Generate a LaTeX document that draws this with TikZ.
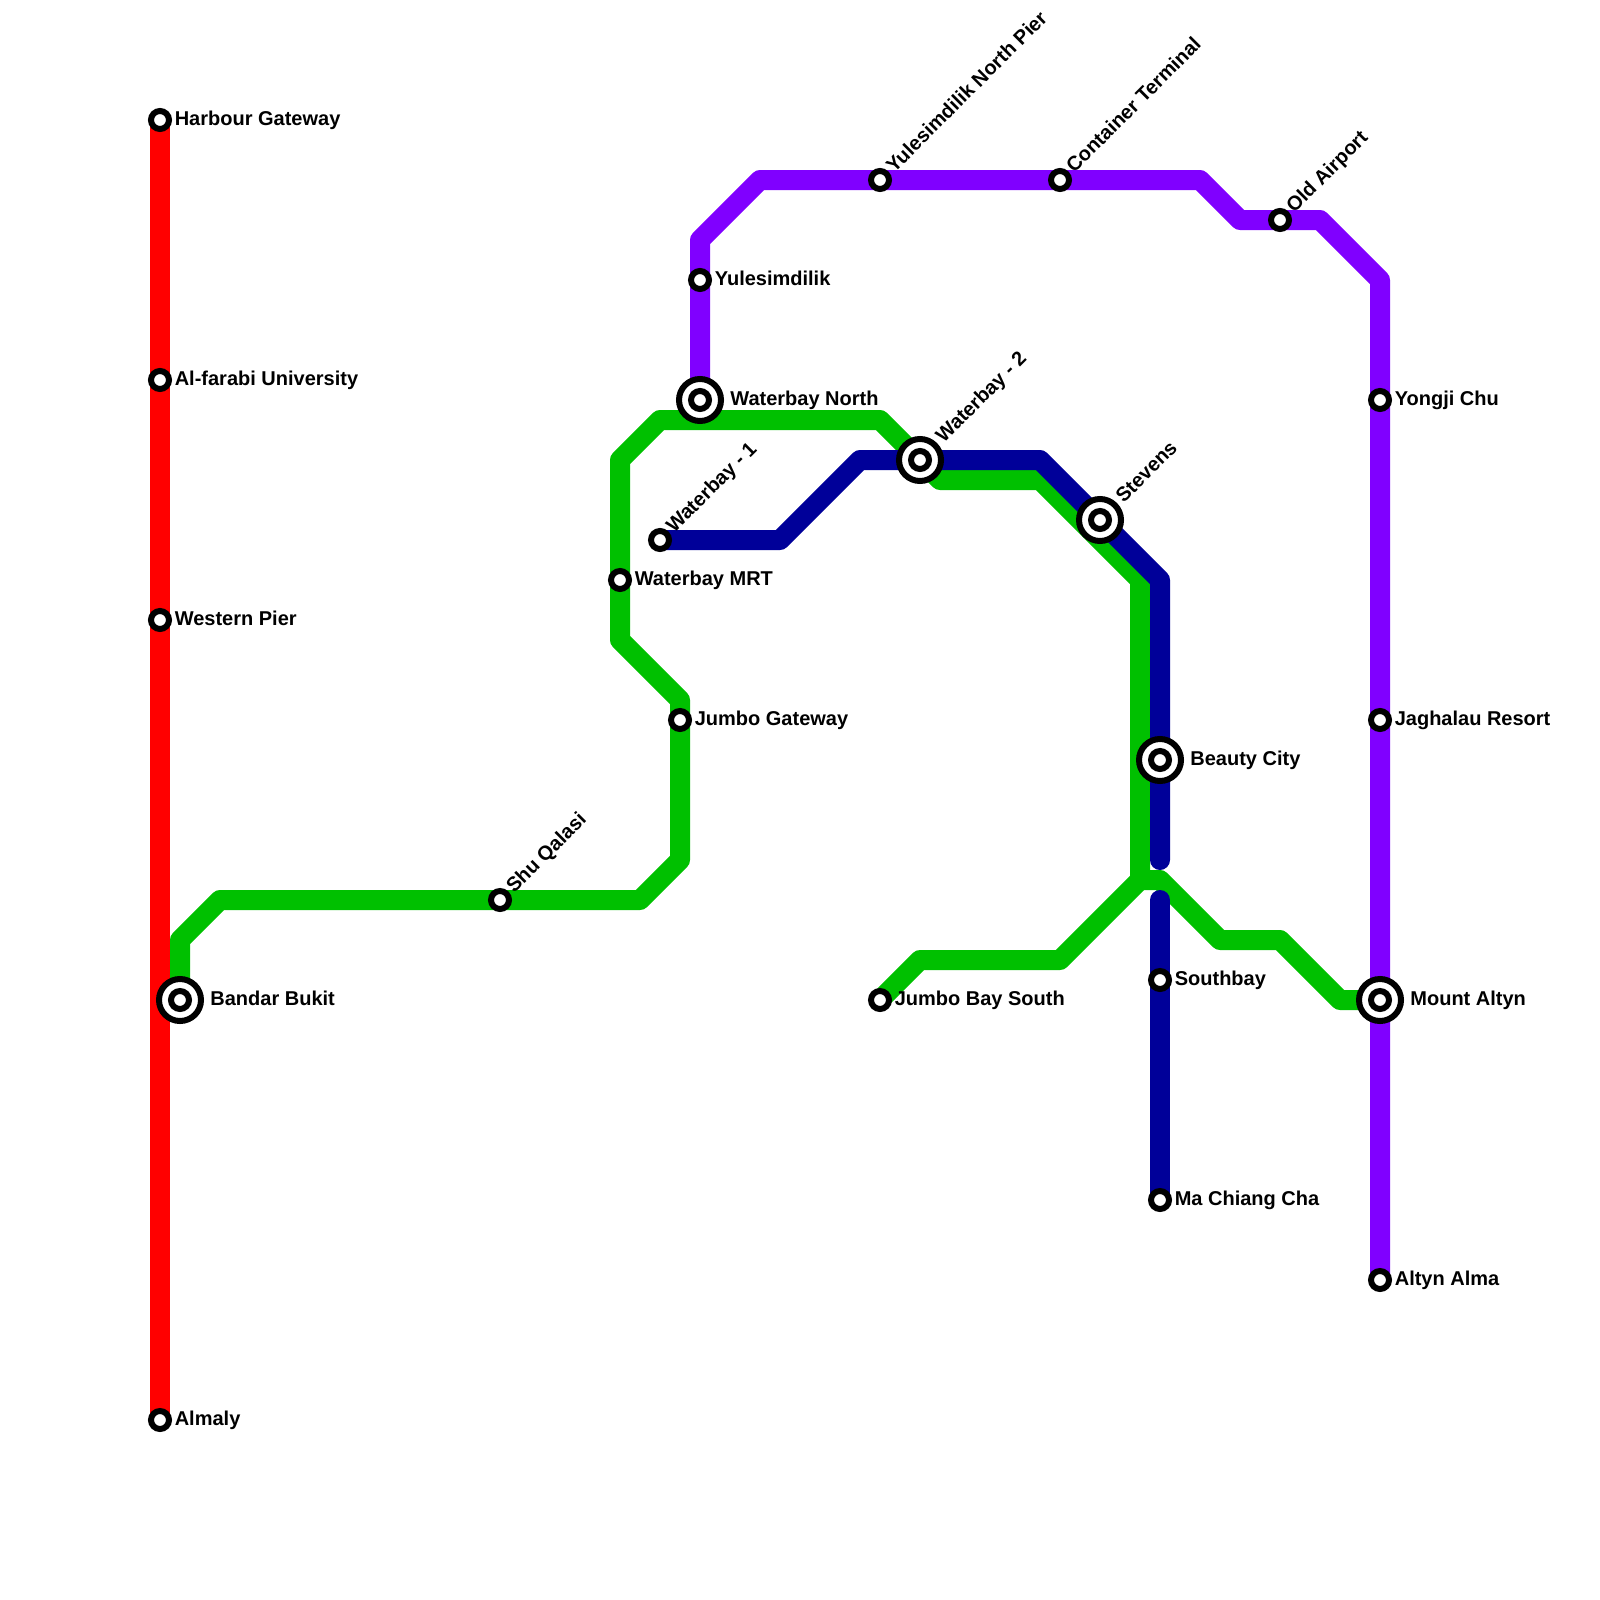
\documentclass[tikz,border=0pt]{standalone}
\usepackage{xcolor}
\usepackage{fontspec}
\setmainfont{Liberation Sans}
\usetikzlibrary{positioning, backgrounds}

\definecolor{linered}{HTML}{FF0000}
\definecolor{linegreen}{HTML}{00C000}
\definecolor{lineblue}{HTML}{000099}
\definecolor{linepurple}{HTML}{8000FF}

\begin{document}
\begin{tikzpicture}[
    x=0.5pt,
    y=-0.5pt,
    station/.style={
        circle,
        draw=black,
        fill=white,
        line width=3pt,
        inner sep=0pt,
        minimum size=9pt
    },
    hub/.style={
        station,
        minimum size=21pt
    },
    stationlabel/.style={
        inner sep=0pt,
        text height=7.3pt,
        text depth=2pt,
        font=\fontsize{10}{12}\selectfont\bfseries
    },
    slantlabel/.style={
        stationlabel,
        rotate=45
    },
    metro/.style={
        line width=10pt,
        line cap=round,
        line join=round
    }
]
\useasboundingbox (0,0) rectangle (1600,1600);

% red line
\node[station] (harbour) at (160,120) {};
\node[station] (alfarabi) at (160,380) {};
\node[station] (western) at (160,620) {};
\node[station] (almaly) at (160,1420) {};

% green line
\node[hub] (bandar) at (180,1000) {};
\node[station] (bandarin) at (bandar) {};
\node[station] (shu) at (500,900) {};
\node[station] (jumbogateway) at (680,720) {};
\node[station] (waterbaymrt) at (620,580) {};
\node[station] (jumbosouth) at (880,1000) {};

% blue line
\node[station] (waterbayone) at (660,540) {};
\node[hub] (waterbaytwo) at (920,460) {};
\node[station] (waterbaytwoin) at (waterbaytwo) {};
\node[hub] (stevens) at (1100,520) {};
\node[station] (stevensin) at (stevens) {};
\node[hub] (beauty) at (1160,760) {};
\node[station] (beautyin) at (beauty) {};
\node[station] (southbay) at (1160,980) {};
\node[station] (machiang) at (1160,1200) {};

% purple line
\node[hub] (waterbaynorth) at (700,400) {};
\node[station] (waterbaynorthin) at (waterbaynorth) {};
\node[station] (yulesimdilik) at (700,280) {};
\node[station] (northpier) at (880,180) {};
\node[station] (container) at (1060,180) {};
\node[station] (oldairport) at (1280,220) {};
\node[station] (yongji) at (1380,400) {};
\node[station] (jaghalau) at (1380,720) {};
\node[hub] (altyn) at (1380,1000) {};
\node[station] (altynin) at (altyn) {};
\node[station] (altynalma) at (1380,1280) {};

% labels
\node[stationlabel, right=1.2pt of harbour] (harbourtext) {Harbour Gateway};
\node[stationlabel, right=1.2pt of alfarabi] (alfarabitext) {Al-farabi University};
\node[stationlabel, right=1.2pt of western] (westerntext) {Western Pier};
\node[stationlabel, right=1.2pt of almaly] (almalytext) {Almaly};
\node[stationlabel, right=3pt of bandar] (bandartext) {Bandar Bukit};
\node[slantlabel, above right=-2.8pt and 4.3pt of shu] (shutext) {Shu Qalasi};
\node[stationlabel, right=1.2pt of jumbogateway] (jumbogatewaytext) {Jumbo Gateway};
\node[stationlabel, right=1.2pt of waterbaymrt] (waterbaymrttext) {Waterbay MRT};
\node[stationlabel, right=1.2pt of jumbosouth] (jumbosouthtext) {Jumbo Bay South};
\node[slantlabel, above right=-2.8pt and 4.3pt of waterbayone] (waterbayonetext) {Waterbay - 1};
\node[slantlabel, above right=-1.9pt and 4.9pt of waterbaytwo] (waterbaytwotext) {Waterbay - 2};
\node[slantlabel, above right=-1.9pt and 4.9pt of stevens] (stevenstext) {Stevens};
\node[stationlabel, right=3pt of beauty] (beautytext) {Beauty City};
\node[stationlabel, right=1.2pt of southbay] (southbaytext) {Southbay};
\node[stationlabel, right=1.2pt of machiang] (machiangtext) {Ma Chiang Cha};
\node[stationlabel, right=3pt of waterbaynorth] (waterbaynorthtext) {Waterbay North};
\node[stationlabel, right=1.2pt of yulesimdilik] (yulesimdiliktext) {Yulesimdilik};
\node[slantlabel, above right=-2.8pt and 4.3pt of northpier] (northpiertext) {Yulesimdilik North Pier};
\node[slantlabel, above right=-2.8pt and 4.3pt of container] (containertext) {Container Terminal};
\node[slantlabel, above right=-2.8pt and 4.3pt of oldairport] (oldairporttext) {Old Airport};
\node[stationlabel, right=1.2pt of yongji] (yongjitext) {Yongji Chu};
\node[stationlabel, right=1.2pt of jaghalau] (jaghalautext) {Jaghalau Resort};
\node[stationlabel, right=3pt of altyn] (altyntext) {Mount Altyn};
\node[stationlabel, right=1.2pt of altynalma] (altynalmatext) {Altyn Alma};

% bends
\coordinate (gbenda) at (180,940);
\coordinate (gbendb) at (220,900);
\coordinate (gbendc) at (640,900);
\coordinate (gbendd) at (680,860);
\coordinate (gbende) at (680,700);
\coordinate (gbendf) at (620,640);
\coordinate (gbendg) at (620,460);
\coordinate (gbendh) at (660,420);
\coordinate (gbendi) at (880,420);
\coordinate (gbendj) at (940,480);
\coordinate (gbendk) at (1040,480);
\coordinate (gbendl) at (1140,580);
\coordinate (gjoin) at (1140,880);
\coordinate (gbendm) at (1060,960);
\coordinate (gbendn) at (920,960);
\coordinate (gbendo) at (1160,880);
\coordinate (gbendp) at (1220,940);
\coordinate (gbendq) at (1280,940);
\coordinate (gbendr) at (1340,1000);
\coordinate (bbenda) at (780,540);
\coordinate (bbendb) at (860,460);
\coordinate (bbendc) at (1040,460);
\coordinate (bbendd) at (1160,580);
\coordinate (bstop) at (1160,860);
\coordinate (bstart) at (1160,900);
\coordinate (pbenda) at (700,240);
\coordinate (pbendb) at (760,180);
\coordinate (pbendc) at (1200,180);
\coordinate (pbendd) at (1240,220);
\coordinate (pbende) at (1320,220);
\coordinate (pbendf) at (1380,280);

\begin{scope}[on background layer]
\draw[metro, linered] (harbour.center) -- (almaly.center);
\draw[metro, linegreen] (bandar.center) -- (gbenda) -- (gbendb) -- (shu.center) -- (gbendc)
    -- (gbendd) -- (jumbogateway.center) -- (gbende) -- (gbendf) -- (waterbaymrt.center)
    -- (gbendg) -- (gbendh) -- (gbendi) -- (waterbaytwo.center) -- (gbendj) -- (gbendk)
    -- (gbendl) -- (gjoin) -- (gbendm) -- (gbendn) -- (jumbosouth.center);
\draw[metro, linegreen] (gjoin) -- (gbendo) -- (gbendp) -- (gbendq) -- (gbendr) -- (altyn.center);
\draw[metro, lineblue] (waterbayone.center) -- (bbenda) -- (bbendb) -- (waterbaytwo.center)
    -- (bbendc) -- (stevens.center) -- (bbendd) -- (beauty.center) -- (bstop);
\draw[metro, lineblue] (bstart) -- (southbay.center) -- (machiang.center);
\draw[metro, linepurple] (waterbaynorth.center) -- (yulesimdilik.center) -- (pbenda) -- (pbendb)
    -- (northpier.center) -- (container.center) -- (pbendc) -- (pbendd) -- (oldairport.center)
    -- (pbende) -- (pbendf) -- (yongji.center) -- (jaghalau.center) -- (altyn.center)
    -- (altynalma.center);
\end{scope}

\end{tikzpicture}
\end{document}
